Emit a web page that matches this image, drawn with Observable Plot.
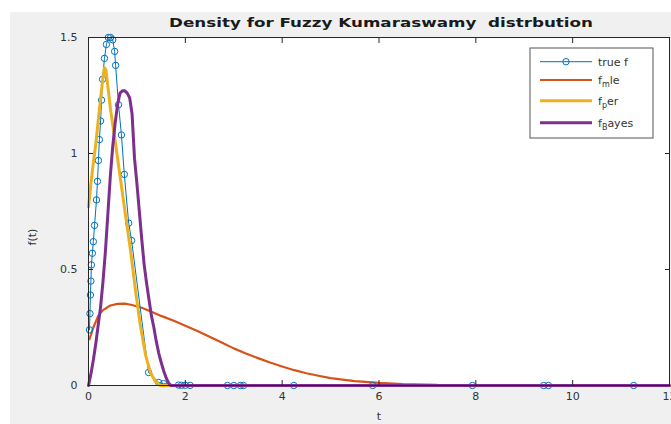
<!DOCTYPE html>
<html>
<head>
<meta charset="utf-8">
<script src="https://cdn.jsdelivr.net/npm/d3@7"></script>
<script src="https://cdn.jsdelivr.net/npm/@observablehq/plot@0.6"></script>
<style>
  html, body { margin: 0; padding: 0; background: #ffffff; }
  #fig { position: absolute; left: 10px; top: 12px; width: 661px; height: 412px; background: #f0f0f0; overflow: hidden; }
  #fig svg { display: block; }
</style>
</head>
<body>
<div id="fig"></div>
<script>
// ---- data ----
const trueT = [0.02,0.03,0.04,0.05,0.06,0.08,0.10,0.125,0.165,0.185,0.205,0.225,0.25,0.27,0.29,0.33,0.37,0.41,0.455,0.50,0.54,0.56,0.62,0.68,0.74,0.83,0.89,1.24,1.45,1.55,1.86,1.92,2.0,2.1,2.87,3.0,3.14,3.2,4.24,5.87,7.93,9.4,9.5,11.26];
const trueF = [0.24,0.31,0.39,0.45,0.52,0.57,0.62,0.69,0.80,0.88,0.97,1.06,1.14,1.23,1.32,1.41,1.47,1.50,1.50,1.49,1.44,1.38,1.21,1.08,0.91,0.70,0.625,0.056,0.013,0.008,0.002,0.001,0.001,0.0005,0,0,0,0,0,0,0,0,0,0];

const mleT = [0.02,0.1,0.2,0.3,0.45,0.6,0.75,0.9,1.1,1.3,1.5,1.75,2.0,2.25,2.5,2.75,3.0,3.25,3.5,3.75,4.0,4.25,4.5,4.75,5.0,5.5,6.0,6.5,7.2];
const mleF = [0.20,0.25,0.30,0.325,0.345,0.352,0.353,0.347,0.335,0.318,0.30,0.28,0.258,0.235,0.21,0.185,0.16,0.138,0.118,0.099,0.082,0.066,0.053,0.042,0.032,0.019,0.011,0.006,0.003];

const perT = [0,0.05,0.1,0.15,0.2,0.25,0.3,0.33,0.36,0.455,0.56,0.66,0.76,0.87,0.97,1.07,1.18,1.28,1.38,1.49,2,4,6,8,10,12];
const perF = [0.77,0.87,0.96,1.04,1.14,1.24,1.33,1.37,1.36,1.19,1.04,0.89,0.74,0.58,0.41,0.26,0.13,0.056,0.017,0,0,0,0,0,0,0];

const bayesT = [0,0.05,0.1,0.15,0.2,0.25,0.3,0.35,0.4,0.45,0.5,0.55,0.6,0.65,0.7,0.75,0.8,0.85,0.9,0.95,1.0,1.05,1.1,1.15,1.2,1.25,1.3,1.35,1.4,1.45,1.5,1.55,1.6,1.65,1.7,2,4,6,8,10,12];
const bayesF = [0.0,0.05,0.11,0.18,0.26,0.34,0.45,0.58,0.74,0.90,1.03,1.13,1.21,1.26,1.27,1.27,1.26,1.24,1.17,0.98,0.87,0.75,0.63,0.52,0.44,0.37,0.30,0.25,0.19,0.14,0.10,0.065,0.035,0.012,0,0,0,0,0,0,0];

const xTicks = [0,2,4,6,8,10,12];
const yTicks = [0,0.5,1,1.5];
const seriesNames = ["true f", "f_mle", "f_per", "f_Bayes"];
const colors = ["#0072BD", "#D95319", "#EDB120", "#7E2F8E"];

const zip = (T, F) => T.map((t, i) => ({t, f: F[i]}));
const trueData = zip(trueT, trueF);
const mleData = zip(mleT, mleF);
const perData = zip(perT, perF);
const bayesData = zip(bayesT, bayesF);

const W = 661, H = 412;
const axisColor = "#262626";
const font = "DejaVu Sans, Liberation Sans, sans-serif";
const fmt = d => String(d);
const noText = () => "";

const chart = Plot.plot({
  width: W, height: H,
  marginLeft: 78, marginRight: 2, marginTop: 25, marginBottom: 39,
  style: {background: "transparent", fontFamily: font, fontSize: "11px", color: "#333"},
  x: {domain: [0, 12], label: null},
  y: {domain: [0, 1.5], label: null},
  marks: [
    Plot.frame({fill: "white"}),
    Plot.line(mleData, {x: "t", y: "f", stroke: colors[1], strokeWidth: 2.2}),
    Plot.line(trueData, {x: "t", y: "f", stroke: colors[0], strokeWidth: 1}),
    Plot.dot(trueData, {x: "t", y: "f", r: 3.2, stroke: colors[0], fill: "none", strokeWidth: 1}),
    Plot.line(perData, {x: "t", y: "f", stroke: colors[2], strokeWidth: 3}),
    Plot.line(bayesData, {x: "t", y: "f", stroke: colors[3], strokeWidth: 3}),
    // tick labels
    Plot.axisX({anchor: "bottom", ticks: xTicks, tickSize: 0, tickPadding: 7, tickFormat: fmt, fill: "#333"}),
    Plot.axisY({anchor: "left", ticks: yTicks, tickSize: 0, tickPadding: 11, tickFormat: fmt, fill: "#333"}),
    // inward ticks on all four sides
    Plot.axisX({anchor: "bottom", ticks: xTicks, tickSize: -5, tickFormat: noText, stroke: axisColor}),
    Plot.axisX({anchor: "top", ticks: xTicks, tickSize: -5, tickFormat: noText, stroke: axisColor}),
    Plot.axisY({anchor: "left", ticks: yTicks, tickSize: -5, tickFormat: noText, stroke: axisColor}),
    Plot.axisY({anchor: "right", ticks: yTicks, tickSize: -5, tickFormat: noText, stroke: axisColor}),
    Plot.frame({stroke: axisColor, strokeWidth: 1})
  ]
});
document.getElementById("fig").appendChild(chart);

const svg = d3.select(chart);
// title
svg.append("text")
  .attr("x", 371).attr("y", 15)
  .attr("text-anchor", "middle")
  .attr("font-family", font).attr("font-weight", "bold").attr("font-size", 13)
  .attr("fill", "#1a1a1a")
  .attr("textLength", 424).attr("lengthAdjust", "spacingAndGlyphs")
  .text("Density for Fuzzy Kumaraswamy  distrbution");
// axis labels
svg.append("text")
  .attr("transform", "translate(26,225) rotate(-90)")
  .attr("text-anchor", "middle")
  .attr("font-family", font).attr("font-size", 11).attr("fill", "#333")
  .text("f(t)");
svg.append("text")
  .attr("x", 369).attr("y", 408)
  .attr("text-anchor", "middle")
  .attr("font-family", font).attr("font-size", 11).attr("fill", "#333")
  .text("t");

// legend
const lg = svg.append("g");
lg.append("rect").attr("x", 520).attr("y", 36).attr("width", 123).attr("height", 90)
  .attr("fill", "white").attr("stroke", "#555").attr("stroke-width", 1);
const rowsY = [49.7, 68, 88.7, 110.7];
const parts = [["true f", null, null], ["f", "m", "le"], ["f", "p", "er"], ["f", "B", "ayes"]];
seriesNames.forEach((name, i) => {
  const y = rowsY[i];
  lg.append("line").attr("x1", 530).attr("x2", 582).attr("y1", y).attr("y2", y)
    .attr("stroke", colors[i]).attr("stroke-width", i === 0 ? 1 : (i === 1 ? 2.2 : 3));
  if (i === 0) {
    lg.append("circle").attr("cx", 556).attr("cy", y).attr("r", 3.2)
      .attr("fill", "none").attr("stroke", colors[0]);
  }
  const t = lg.append("text").attr("x", 588).attr("y", y + 4)
    .attr("text-anchor", "start")
    .attr("font-family", font).attr("font-size", 11).attr("fill", "#333");
  const [a, sub, rest] = parts[i];
  t.append("tspan").text(a);
  if (sub) {
    t.append("tspan").attr("dy", 3).attr("font-size", 8).text(sub);
    t.append("tspan").attr("dy", -3).text(rest);
  }
});
</script>
</body>
</html>
